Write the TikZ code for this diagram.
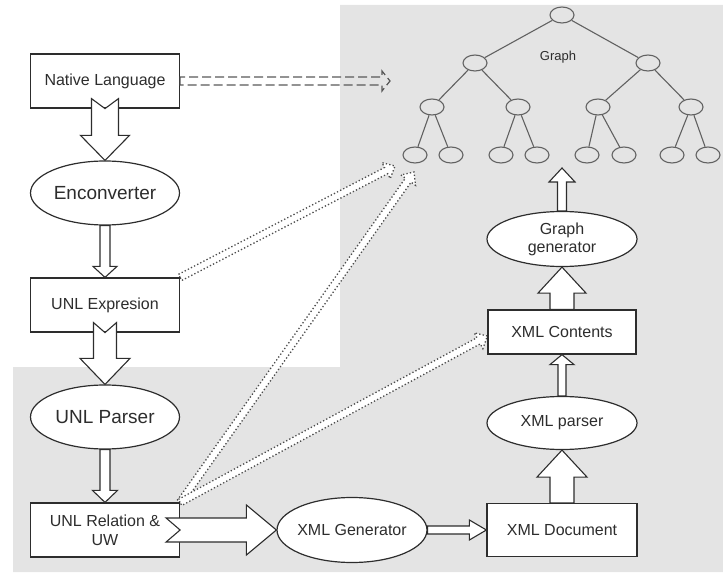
\documentclass[tikz,border=0pt]{standalone}
\usepackage{fontspec}
\setmainfont{Liberation Sans}
\usepackage{tikz}
\usetikzlibrary{positioning,calc,shapes.geometric,backgrounds}
\definecolor{panelgray}{RGB}{228,228,228}
\definecolor{inkgray}{RGB}{45,45,45}
\colorlet{treegray}{black!62}
% hollow block arrow: style, from, to, shaft half width, head half width, head length, tail notch
\newcommand{\blockarrow}[7][]{%
  \coordinate (ba-h) at ($(#3)!#6!(#2)$);
  \coordinate (ba-t) at ($(#2)!-#7!(#3)$);
  \draw[#1] (#2) -- ($(ba-t)!#4!90:(#3)$) -- ($(ba-h)!#4!90:(#3)$) -- ($(ba-h)!#5!90:(#3)$) -- (#3)
    -- ($(ba-h)!#5!-90:(#3)$) -- ($(ba-h)!#4!-90:(#3)$) -- ($(ba-t)!#4!-90:(#3)$) -- cycle;}

\begin{document}
\begin{tikzpicture}[x=1pt,y=-1pt,
    box/.style={draw=inkgray,fill=white,line width=1.2pt,minimum width=149pt,minimum height=54pt,inner sep=2pt,align=center,text=inkgray,font=\fontsize{16}{19}\selectfont},
    oval/.style={ellipse,draw=inkgray,fill=white,line width=1.2pt,minimum width=149pt,minimum height=64pt,inner sep=0pt,align=center,text=inkgray,font=\fontsize{16}{18}\selectfont},
    fatarrow/.style={draw=inkgray,fill=white,line width=1.1pt,line join=miter},
    dotarrow/.style={draw=black!70,fill=white,line width=1.3pt,dash pattern=on 1.3pt off 2.2pt},
    dasharrow/.style={draw=black!65,line width=1.2pt,dash pattern=on 9pt off 4pt},
    treenode/.style={ellipse,draw=treegray,line width=1.1pt,minimum width=24pt,minimum height=16pt,inner sep=0pt},
    treeedge/.style={draw=treegray,line width=1.1pt}]
    \useasboundingbox (0,0) rectangle (723,577);
    % left column
    \node[box] (nat) at (105,81) {Native Language};
    \node[oval,minimum height=64pt,font=\fontsize{19}{22}\selectfont] (enc) at (105,193) {Enconverter};
    \node[box] (unlexp) at (105,305) {UNL Expresion};
    \node[oval,font=\fontsize{19}{22}\selectfont] (parser) at (105,417) {UNL Parser};
    \node[box] (rel) at (105,530) {UNL Relation \&\\UW};
    % bottom and right column
    \node[oval,minimum width=150pt,minimum height=65pt,inner xsep=-6pt] (xmlgen) at (352,530) {XML Generator};
    \node[box,minimum width=150pt,minimum height=53pt] (xmldoc) at (562,530) {XML Document};
    \node[oval,minimum width=150pt,minimum height=53pt] (xmlpar) at (562,423) {XML parser};
    \node[box,minimum width=148pt,minimum height=44pt] (xmlcon) at (562,332) {XML Contents};
    \node[oval,minimum width=150pt,minimum height=55pt] (graphgen) at (562,239) {Graph\\generator};
    % graph tree
    \node[treenode] (t0) at (562,15) {};
    \node[treenode] (t1) at (475,63) {};
    \node[treenode] (t2) at (648,63) {};
    \foreach \n/\x in {t11/432,t12/518,t21/598,t22/691}{\node[treenode] (\n) at (\x,107) {};}
    \foreach \n/\x in {t111/415,t112/451,t121/501,t122/537,t211/587,t212/624,t221/672,t222/708}{\node[treenode] (\n) at (\x,155) {};}
    \foreach \a/\b in {t0/t1,t0/t2,t1/t11,t1/t12,t2/t21,t2/t22,t11/t111,t11/t112,t12/t121,t12/t122,t21/t211,t21/t212,t22/t221,t22/t222}{\draw[treeedge] (\a)--(\b);}
    \node[text=inkgray,font=\fontsize{13}{15}\selectfont] (graphlbl) at (558,57) {Graph};
    \coordinate (treein) at (562,168);
    \coordinate (nativeto) at (390,81);
    \coordinate (graphin1) at (395,166);
    \coordinate (graphin2) at (414,172);
    % solid block arrows
    \blockarrow[fatarrow]{nat.south}{enc.north}{13.5pt}{24.5pt}{25pt}{10pt}
    \blockarrow[fatarrow]{enc.south}{unlexp.north}{5pt}{12pt}{11pt}{0pt}
    \blockarrow[fatarrow]{unlexp.south}{parser.north}{11.5pt}{25pt}{26pt}{10pt}
    \blockarrow[fatarrow]{parser.south}{rel.north}{5pt}{12.5pt}{12pt}{0pt}
    \blockarrow[fatarrow]{rel.east}{xmlgen.west}{12pt}{25pt}{30pt}{14pt}
    \blockarrow[fatarrow]{xmlgen.east}{xmldoc.west}{4pt}{10pt}{17pt}{0pt}
    \blockarrow[fatarrow]{xmldoc.north}{xmlpar.south}{12pt}{25pt}{27pt}{0pt}
    \blockarrow[fatarrow]{xmlpar.north}{xmlcon.south}{4pt}{12pt}{10pt}{0pt}
    \blockarrow[fatarrow]{xmlcon.north}{graphgen.south}{12pt}{24pt}{26pt}{0pt}
    \blockarrow[fatarrow]{graphgen.north}{treein}{4.5pt}{13pt}{14pt}{0pt}
    \blockarrow[dasharrow]{nat.east}{nativeto}{4pt}{10pt}{8pt}{0pt}
    \begin{scope}[on background layer]
      \fill[panelgray] (340,5) -- (723,5) -- (723,572) -- (13,572) -- (13,367) -- (340,367) -- cycle;
      \blockarrow[dotarrow]{unlexp.north east}{graphin1}{3.5pt}{9pt}{10pt}{0pt}
      \blockarrow[dotarrow]{rel.north east}{graphin2}{3.5pt}{9pt}{10pt}{0pt}
      \blockarrow[dotarrow]{rel.north east}{$(xmlcon.west)+(0,4)$}{3.5pt}{9pt}{10pt}{0pt}
    \end{scope}
\end{tikzpicture}
\end{document}
